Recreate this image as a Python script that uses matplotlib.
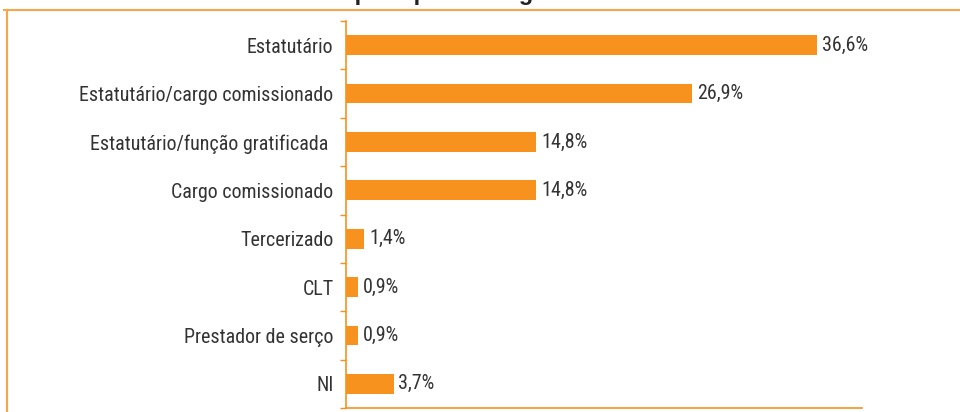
import matplotlib
matplotlib.use("Agg")
import matplotlib.pyplot as plt
from matplotlib import font_manager
from matplotlib.lines import Line2D
from matplotlib.ticker import FixedLocator

categories = ["Estatutário", "Estatutário/cargo comissionado", "Estatutário/função gratificada ",
              "Cargo comissionado", "Tercerizado", "CLT", "Prestador de serço", "NI"]
values = [36.6, 26.9, 14.8, 14.8, 1.4, 0.9, 0.9, 3.7]
value_labels = ["36,6%", "26,9%", "14,8%", "14,8%", "1,4%", "0,9%", "0,9%", "3,7%"]
title = "Servidores por tipo de cargo"

names = {f.name for f in font_manager.fontManager.ttflist}
fam = next((c for c in ["Roboto Condensed", "Archivo Narrow", "Asap Condensed", "DejaVu Sans"] if c in names), "DejaVu Sans")
plt.rcParams['font.family'] = [fam, 'DejaVu Sans']

ORANGE = "#F7921E"
TEXT = "#333333"
FS = 14.4

fig = plt.figure(figsize=(9.6, 4.12), dpi=100)
ax = fig.add_axes([346/960, 1-408/412, (862-346)/960, (408-21)/412])

n = len(categories)
ypos = list(range(n))
ax.barh(ypos, values, height=0.41, color=ORANGE, left=0)
ax.set_xlim(0, 40.1)
ax.set_ylim(n-0.5, -0.5)

for y, v, lab in zip(ypos, values, value_labels):
    ax.annotate(lab, (v, y), xytext=(3.5, 0), textcoords="offset points",
                va="center", ha="left", fontsize=FS, color=TEXT)

ax.set_yticks(ypos)
ax.set_yticklabels(categories, fontsize=FS, color=TEXT)
ax.tick_params(axis="y", which="major", length=0, pad=9)
ax.yaxis.set_minor_locator(FixedLocator([i - 0.5 for i in range(n + 1)]))
ax.tick_params(axis="y", which="minor", length=4, color=ORANGE, width=1)
ax.set_xticks([])
for s in ["top", "right"]:
    ax.spines[s].set_visible(False)
for s in ["left", "bottom"]:
    ax.spines[s].set_color(ORANGE)
    ax.spines[s].set_linewidth(1.2)

# frame
fig.add_artist(Line2D([4/960, 1], [1-10/412, 1-10/412], transform=fig.transFigure,
                      color="#F9A54A", lw=1.5))
fig.add_artist(Line2D([7/960, 7/960], [1-10/412, 0], transform=fig.transFigure,
                      color="#F9A54A", lw=1.5))

fig.text(226/960, 1.0, title, ha="left", va="baseline", fontsize=17,
         fontweight="bold", color="#222222", family=["Liberation Sans", "DejaVu Sans"])

fig.savefig("out.png", dpi=100)
